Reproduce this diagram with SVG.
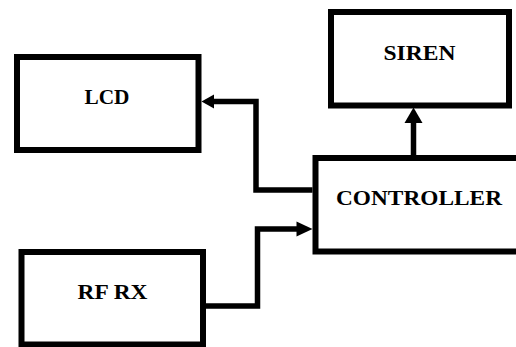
<svg xmlns="http://www.w3.org/2000/svg" width="516" height="347" viewBox="0 0 516 347">
<style>
.box{fill:#fff;stroke:#000;stroke-width:6}
.lbl{font-family:"Liberation Serif","Times New Roman",serif;font-weight:bold;font-size:22px;fill:#000;text-anchor:middle}
.wire{fill:none;stroke:#000;stroke-width:5.5;stroke-linejoin:miter}
.head{fill:#000;stroke:none}
</style>
<rect width="516" height="347" fill="#fff"/>
<g id="lcd">
<rect class="box" x="17" y="57" width="181.5" height="93"/>
<text class="lbl" x="107" y="104" textLength="45" lengthAdjust="spacingAndGlyphs">LCD</text>
</g>
<g id="siren">
<rect class="box" x="331" y="12" width="178" height="93.5"/>
<text class="lbl" x="419.5" y="60" textLength="72" lengthAdjust="spacingAndGlyphs">SIREN</text>
</g>
<g id="controller">
<rect class="box" x="315.5" y="158" width="210" height="93.5"/>
<text class="lbl" x="419" y="205" textLength="166" lengthAdjust="spacingAndGlyphs">CONTROLLER</text>
</g>
<g id="rfrx">
<rect class="box" x="21.5" y="252" width="181.5" height="92.5"/>
<text class="lbl" x="112.5" y="299" textLength="70" lengthAdjust="spacingAndGlyphs">RF RX</text>
</g>
<g id="connectors">
<polyline class="wire" points="312.5,190 256,190 256,101.5 212,101.5"/>
<polygon class="head" points="201.5,101.5 214,94.5 214,108.5"/>
<polyline class="wire" points="413.5,155 413.5,120"/>
<polygon class="head" points="413.5,107.5 404.5,123 422.5,123"/>
<polyline class="wire" points="200,306 257.5,306 257.5,229 299,229"/>
<polygon class="head" points="312.5,229 296.5,221.5 296.5,236.5"/>
</g>
</svg>
